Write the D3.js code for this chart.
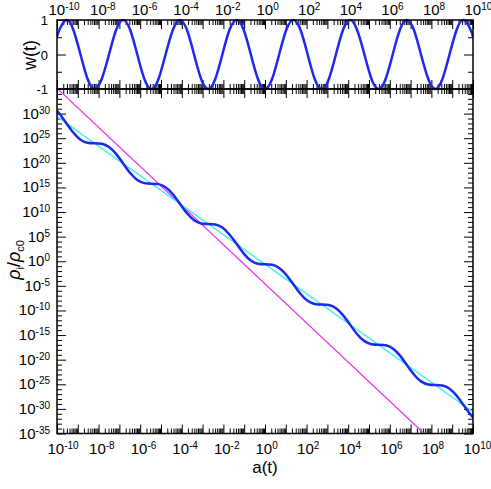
<!DOCTYPE html>
<html>
<head>
<meta charset="utf-8">
<script src="https://cdn.jsdelivr.net/npm/d3@7"></script>
<style>
  body { margin: 0; background: #fff; }
  text { font-family: "Liberation Sans", Arial, sans-serif; fill: #000; }
</style>
</head>
<body>
<svg id="chart" width="491" height="489"></svg>
<script>
// sample points, x as log10 a(t)
var logA = [-10, -9.89, -9.55, -9.21, -8.87, -8.53, -8.19, -7.85, -7.50, -7.16, -6.82,
  -6.48, -6.14, -5.80, -5.46, -5.12, -4.78, -4.43, -4.09, -3.75, -3.41, -3.07, -2.73,
  -2.39, -2.05, -1.71, -1.36, -1.02, -0.68, -0.34, 0, 0.34, 0.68, 1.02, 1.36, 1.71,
  2.05, 2.39, 2.73, 3.07, 3.41, 3.75, 4.09, 4.43, 4.78, 5.12, 5.46, 5.80, 6.14, 6.48,
  6.82, 7.16, 7.50, 7.85, 8.19, 8.53, 8.87, 9.21, 9.55, 9.89, 10];

// equation of state w(t), top panel
var wVals = [0.51, 0.71, 1, 0.71, 0, -0.71, -1, -0.71, 0, 0.71, 1,
  0.71, 0, -0.71, -1, -0.71, 0, 0.71, 1, 0.71, 0, -0.71, -1,
  -0.71, 0, 0.71, 1, 0.71, 0, -0.71, -1, -0.71, 0, 0.71, 1, 0.71,
  0, -0.71, -1, -0.71, 0, 0.71, 1, 0.71, 0, -0.71, -1, -0.71, 0, 0.71,
  1, 0.71, 0, -0.71, -1, -0.71, 0, 0.71, 1, 0.71, 0.51];

// log10 of rho_i / rho_c0 for the oscillating component (blue)
var logRhoOsc = [30.52, 30.00, 28.05, 26.11, 24.71, 24.06, 23.96, 23.86, 23.21, 21.81, 19.87,
  17.92, 16.52, 15.88, 15.77, 15.67, 15.03, 13.62, 11.68, 9.74, 8.33, 7.69, 7.59,
  7.48, 6.84, 5.44, 3.49, 1.55, 0.15, -0.50, -0.60, -0.70, -1.35, -2.75, -4.69, -6.64,
  -8.04, -8.68, -8.79, -8.89, -9.53, -10.94, -12.88, -14.82, -16.23, -16.87, -16.97, -17.08, -17.72, -19.12,
  -21.07, -23.01, -24.41, -25.06, -25.16, -25.26, -25.91, -27.31, -29.25, -31.20, -31.72];

// matter-like line (cyan) and radiation-like line (magenta), log10 values
var matterLogA = [-10, 10];
var matterLogRho = [29.4, -30.6];
var radLogA = [-10, 8];
var radLogRho = [35.15, -36.4];

var xLabelExp = [-10, -8, -6, -4, -2, 0, 2, 4, 6, 8, 10];
var yLabelExp = [30, 25, 20, 15, 10, 5, 0, -5, -10, -15, -20, -25, -30, -35];
var wTickLabels = [1, 0, -1];

var svg = d3.select("#chart");
var left = 57, right = 473, topW = 20, midY = 89, bottomY = 433.5;

var x = d3.scaleLog().domain([1e-10, 1e10]).range([left, right]);
var yw = d3.scaleLinear().domain([-1, 1]).range([midY, topW]);
var yr = d3.scaleLog().domain([1e-35, 1e35]).range([bottomY, midY]);

// tick positions
var decades = d3.range(-10, 11).map(function(e) { return Math.pow(10, e); });
var minorX = [];
d3.range(-10, 10).forEach(function(e) {
  for (var m = 2; m <= 9; m++) minorX.push(m * Math.pow(10, e));
});
var yMajor = d3.range(-35, 36, 5).map(function(e) { return Math.pow(10, e); });
var yMinor = d3.range(-35, 36).filter(function(e) { return e % 5 !== 0; })
  .map(function(e) { return Math.pow(10, e); });

function tickAxis(axis, vals, size, tx, ty) {
  var g = svg.append("g")
    .attr("transform", "translate(" + tx + "," + ty + ")")
    .call(axis.tickValues(vals).tickSize(size).tickFormat(""));
  g.select(".domain").remove();
  g.selectAll("line").attr("stroke", "#000").attr("stroke-width", 1);
  return g;
}

// top panel ticks
tickAxis(d3.axisTop(x), minorX, -5, 0, topW);
tickAxis(d3.axisTop(x), decades, -9, 0, topW);
tickAxis(d3.axisBottom(x), minorX, -5, 0, midY);
tickAxis(d3.axisBottom(x), decades, -9, 0, midY);
tickAxis(d3.axisLeft(yw), [-0.5, 0.5], -5, left, 0);
tickAxis(d3.axisLeft(yw), wTickLabels, -9, left, 0);
tickAxis(d3.axisRight(yw), [-0.5, 0.5], -5, right, 0);
tickAxis(d3.axisRight(yw), wTickLabels, -9, right, 0);

// bottom panel ticks
tickAxis(d3.axisTop(x), minorX, -5, 0, midY);
tickAxis(d3.axisTop(x), decades, -9, 0, midY);
tickAxis(d3.axisBottom(x), minorX, -5, 0, bottomY);
tickAxis(d3.axisBottom(x), decades, -9, 0, bottomY);
tickAxis(d3.axisLeft(yr), yMinor, -5, left, 0);
tickAxis(d3.axisLeft(yr), yMajor, -9, left, 0);
tickAxis(d3.axisRight(yr), yMinor, -5, right, 0);
tickAxis(d3.axisRight(yr), yMajor, -9, right, 0);

// clip regions
var defs = svg.append("defs");
defs.append("clipPath").attr("id", "clipW").append("rect")
  .attr("x", left).attr("y", topW - 2).attr("width", right - left).attr("height", midY - topW + 4);
defs.append("clipPath").attr("id", "clipR").append("rect")
  .attr("x", left).attr("y", midY).attr("width", right - left).attr("height", bottomY - midY);

function pts(xs, ys) { return xs.map(function(v, i) { return [v, ys[i]]; }); }

var lineW = d3.line()
  .x(function(d) { return x(Math.pow(10, d[0])); })
  .y(function(d) { return yw(d[1]); })
  .curve(d3.curveNatural);
var lineR = d3.line()
  .x(function(d) { return x(Math.pow(10, d[0])); })
  .y(function(d) { return yr(Math.pow(10, d[1])); })
  .curve(d3.curveNatural);

svg.append("path").attr("clip-path", "url(#clipW)")
  .attr("d", lineW(pts(logA, wVals)))
  .attr("fill", "none").attr("stroke", "#1e28f0").attr("stroke-width", 2.5);

var gR = svg.append("g").attr("clip-path", "url(#clipR)");
gR.append("path").attr("d", lineR(pts(radLogA, radLogRho)))
  .attr("fill", "none").attr("stroke", "#f020f0").attr("stroke-width", 1.2);
gR.append("path").attr("d", lineR(pts(matterLogA, matterLogRho)))
  .attr("fill", "none").attr("stroke", "#40f4f4").attr("stroke-width", 1.4);
gR.append("path").attr("d", lineR(pts(logA, logRhoOsc)))
  .attr("fill", "none").attr("stroke", "#1e28f0").attr("stroke-width", 2.5);

// frames
[[topW, midY], [midY, bottomY]].forEach(function(p) {
  svg.append("rect").attr("x", left).attr("y", p[0])
    .attr("width", right - left).attr("height", p[1] - p[0])
    .attr("fill", "none").attr("stroke", "#000").attr("stroke-width", 1.5);
});

// labels with superscript powers
function powLabel(g, exp, anchor) {
  var t = g.append("text").attr("text-anchor", anchor);
  t.append("tspan").attr("font-size", 15).text("10");
  t.append("tspan").attr("font-size", 10).attr("dy", -5).text(String(exp));
  return t;
}

xLabelExp.forEach(function(e) {
  powLabel(svg, e, "start").attr("x", x(Math.pow(10, e)) - 8.5).attr("y", 15);
  powLabel(svg, e, "start").attr("x", x(Math.pow(10, e)) - 9.5).attr("y", 454);
});
yLabelExp.forEach(function(e) {
  powLabel(svg, e, "end").attr("x", 50).attr("y", yr(Math.pow(10, e)) + 5);
});
wTickLabels.forEach(function(v) {
  svg.append("text").attr("text-anchor", "end").attr("font-size", 13)
    .attr("x", 48).attr("y", yw(v) + 5).text(String(v));
});

svg.append("text").attr("text-anchor", "middle").attr("font-size", 18)
  .attr("transform", "translate(36,55) rotate(-90)").text("w(t)");
svg.append("text").attr("text-anchor", "middle").attr("font-size", 17)
  .attr("x", 265).attr("y", 473).text("a(t)");

var yl = svg.append("text").attr("text-anchor", "middle").attr("font-size", 18)
  .attr("transform", "translate(20,260) rotate(-90)");
yl.append("tspan").attr("font-style", "italic").text("ρ");
yl.append("tspan").attr("font-size", 11).attr("dy", 4).text("i");
yl.append("tspan").attr("dy", -4).text("/");
yl.append("tspan").attr("font-style", "italic").text("ρ");
yl.append("tspan").attr("font-size", 11).attr("dy", 4).text("c0");
</script>
</body>
</html>
